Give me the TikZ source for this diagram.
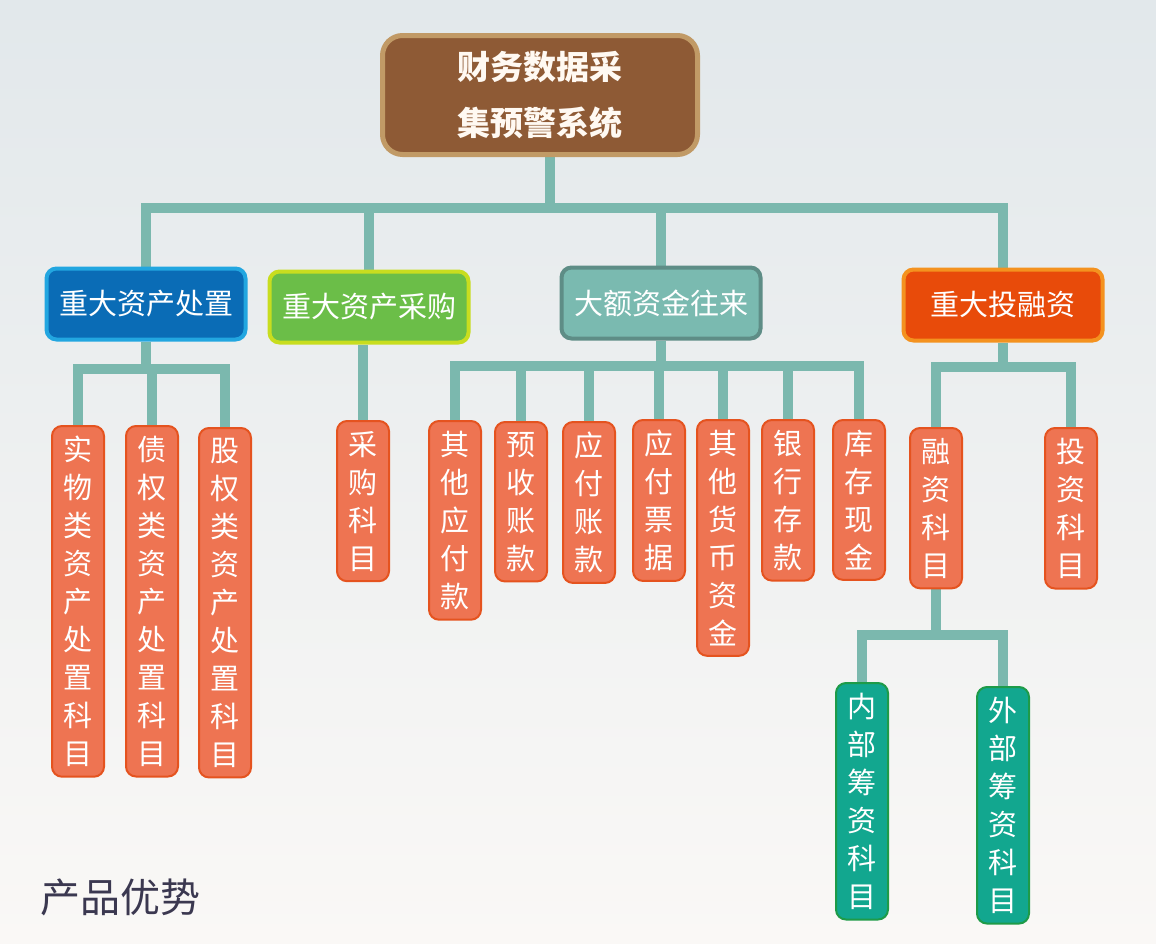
\documentclass[tikz,border=0pt]{standalone}
\usepackage{fontspec}
\setmainfont{Noto Sans CJK SC}
\usepackage{tikz}
\usetikzlibrary{positioning, calc, backgrounds}
\definecolor{bgtop}{HTML}{E2E8EB}
\definecolor{bgbottom}{HTML}{FAF8F6}
\definecolor{linkteal}{HTML}{7BB8AE}
\definecolor{rootfill}{HTML}{8E5A35}
\definecolor{rootdraw}{HTML}{C19A66}
\definecolor{disposefill}{HTML}{0A6CB6}
\definecolor{disposedraw}{HTML}{22A6E0}
\definecolor{buyfill}{HTML}{6BBE48}
\definecolor{buydraw}{HTML}{C8DD1F}
\definecolor{flowfill}{HTML}{7ABAB0}
\definecolor{flowdraw}{HTML}{5E8D86}
\definecolor{investfill}{HTML}{E84B0A}
\definecolor{investdraw}{HTML}{F4921F}
\definecolor{leaffill}{HTML}{EE7452}
\definecolor{leafdraw}{HTML}{E5531F}
\definecolor{finfill}{HTML}{12A78F}
\definecolor{findraw}{HTML}{1E9B48}
\definecolor{foottext}{HTML}{3B3850}
\tikzset{
    link/.style={draw=linkteal, line width=10pt, line join=miter},
    rootbox/.style={rectangle, rounded corners=20pt, draw=rootdraw, fill=rootfill,
                    line width=5pt, minimum width=315pt, minimum height=119pt,
                    align=center, text=white!95!orange,
                    font=\fontsize{33}{56}\selectfont\bfseries},
    catbox/.style={rectangle, rounded corners=10pt, line width=4pt,
                   minimum width=199pt, minimum height=71pt, text=white,
                   font=\fontsize{29}{34}\selectfont},
    leafbox/.style={rectangle, rounded corners=10pt, line width=2pt, draw=leafdraw,
                    fill=leaffill, text=white, minimum width=52pt, inner xsep=0pt,
                    inner ysep=10pt, align=center, anchor=north,
                    font=\fontsize{29}{38}\selectfont},
    finbox/.style={leafbox, draw=findraw, fill=finfill},
}
\begin{document}
\begin{tikzpicture}[x=1pt, y=-1pt]
    \useasboundingbox (0,0) rectangle (1156,943);
    % top level
    \node[rootbox] (root) at (540,95) {财务数据采\\集预警系统};
    \node[catbox, fill=disposefill, draw=disposedraw] (dispose) at (146,304) {重大资产处置};
    \node[catbox, fill=buyfill, draw=buydraw] (purchase) at (369,307) {重大资产采购};
    \node[catbox, fill=flowfill, draw=flowdraw] (flow) at (661,303) {大额资金往来};
    \node[catbox, fill=investfill, draw=investdraw] (invest) at (1003,305) {重大投融资};
    % accounts
    \node[leafbox] (dl1) at (78,425) {实\\物\\类\\资\\产\\处\\置\\科\\目};
    \node[leafbox] (dl2) at (152,425) {债\\权\\类\\资\\产\\处\\置\\科\\目};
    \node[leafbox] (dl3) at (225,427) {股\\权\\类\\资\\产\\处\\置\\科\\目};
    \node[leafbox] (buyacc) at (363,420) {采\\购\\科\\目};
    \node[leafbox] (fl1) at (455,420) {其\\他\\应\\付\\款};
    \node[leafbox] (fl2) at (521,421) {预\\收\\账\\款};
    \node[leafbox] (fl3) at (589,421) {应\\付\\账\\款};
    \node[leafbox] (fl4) at (659,419) {应\\付\\票\\据};
    \node[leafbox] (fl5) at (723,419) {其\\他\\货\\币\\资\\金};
    \node[leafbox] (fl6) at (788,419) {银\\行\\存\\款};
    \node[leafbox] (fl7) at (859,419) {库\\存\\现\\金};
    \node[leafbox] (il1) at (936,427) {融\\资\\科\\目};
    \node[leafbox] (il2) at (1071,427) {投\\资\\科\\目};
    \node[finbox] (fn1) at (862,682) {内\\部\\筹\\资\\科\\目};
    \node[finbox] (fn2) at (1003,686) {外\\部\\筹\\资\\科\\目};
    \node[text=foottext, font=\fontsize{40}{44}\selectfont] (foot) at (120,897) {产品优势};
    % connectors
    \begin{scope}[on background layer]
        \shade[top color=bgtop, bottom color=bgbottom] (0,0) rectangle (1156,943);
        \coordinate (bus0) at (550,208);
        \draw[link] (root.south -| bus0) -- (bus0);
        \foreach \n in {dispose, purchase, flow, invest}
            \draw[link] (bus0) -| (\n.north);
        \coordinate (busd) at ($(dispose.south)+(0,27)$);
        \draw[link] (dispose.south) -- (busd);
        \foreach \n in {dl1, dl2, dl3}
            \draw[link] (busd) -| (\n.north);
        \draw[link] (buyacc.north) -- (buyacc.north |- purchase.south);
        \coordinate (busf) at ($(flow.south)+(0,25)$);
        \draw[link] (flow.south) -- (busf);
        \foreach \n in {fl1, fl2, fl3, fl4, fl5, fl6, fl7}
            \draw[link] (busf) -| (\n.north);
        \coordinate (busi) at ($(invest.south)+(0,24)$);
        \draw[link] (invest.south) -- (busi);
        \foreach \n in {il1, il2}
            \draw[link] (busi) -| (\n.north);
        \coordinate (busn) at ($(il1.south)+(0,46)$);
        \draw[link] (il1.south) -- (busn);
        \foreach \n in {fn1, fn2}
            \draw[link] (busn) -| (\n.north);
    \end{scope}
\end{tikzpicture}
\end{document}
